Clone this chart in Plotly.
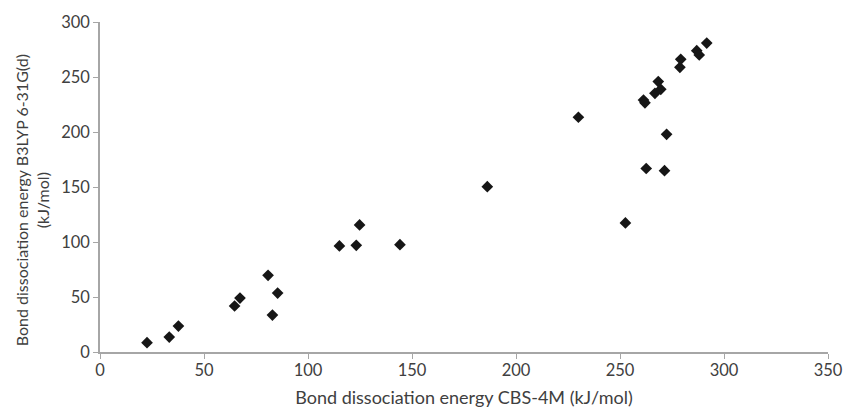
import plotly.graph_objects as go

# Bond dissociation energies (kJ/mol)
cbs_4m = [22.6, 33.3, 37.7, 64.7, 67.3, 80.8, 82.9, 85.4, 115.1, 123.2, 124.8,
          144.2, 186.2, 230.0, 252.6, 261.3, 262.0, 262.6, 266.8, 268.4, 269.6,
          271.4, 272.4, 278.8, 279.2, 286.9, 288.1, 291.7]
b3lyp = [8.5, 13.6, 23.6, 41.8, 49.0, 69.7, 33.6, 53.6, 96.4, 97.0, 115.5,
         97.6, 150.3, 213.4, 117.3, 229.0, 226.5, 166.8, 235.2, 245.8, 238.8,
         164.8, 197.9, 258.8, 266.1, 273.9, 270.0, 280.8]

INK = "#404040"
AXIS = "#a6a6a6"
FONT = "Lato, 'Open Sans', sans-serif"

fig = go.Figure(go.Scatter(
    x=cbs_4m, y=b3lyp, mode="markers",
    marker=dict(symbol="diamond", size=9, color="#161616"),
))

fig.update_layout(
    width=844, height=408,
    margin=dict(l=100, r=16, t=22, b=56),
    plot_bgcolor="white", paper_bgcolor="white",
    showlegend=False,
    font=dict(family=FONT, size=15.3, color=INK),
    xaxis=dict(
        range=[0, 350], dtick=50, showgrid=False, zeroline=False,
        showline=True, linecolor=AXIS, linewidth=1.5,
        ticks="outside", ticklen=5, tickcolor=AXIS, automargin=False,
        tickfont=dict(size=16.5), ticklabelstandoff=-3,
        title=dict(text="Bond dissociation energy CBS-4M (kJ/mol)", standoff=15),
    ),
    yaxis=dict(
        range=[0, 300], dtick=50, showgrid=False, zeroline=False,
        showline=True, linecolor=AXIS, linewidth=1.5,
        ticks="outside", ticklen=5, tickcolor=AXIS, automargin=False,
        tickfont=dict(size=16.5),
    ),
    annotations=[dict(
        text="Bond dissociation energy B3LYP 6-31G(d)<br>(kJ/mol)",
        xref="paper", yref="paper", x=-0.0934, y=0.46,
        xanchor="center", yanchor="middle", textangle=-90,
        showarrow=False, font=dict(size=16, color=INK),
    )],
)

# drop the page's default body margin so the figure sits at the window's corner
fig.write_html(
    "out.html",
    config={"displayModeBar": False},
    post_script="document.body.style.margin = '0';",
)
